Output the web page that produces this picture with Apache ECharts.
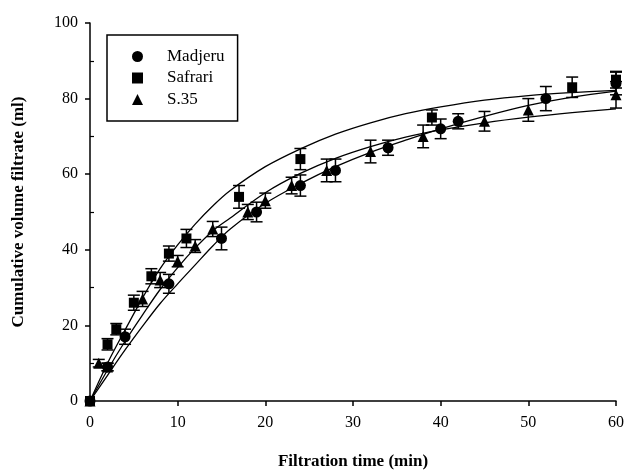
<!DOCTYPE html>
<html>
<head>
<meta charset="utf-8">
<script src="https://cdn.jsdelivr.net/npm/echarts@6/dist/echarts.min.js"></script>
<style>
  html, body { margin: 0; padding: 0; background: #fff; }
  #chart { width: 628px; height: 474px; }
</style>
</head>
<body>
<div id="chart"></div>
<script>
// Measured cumulative filtrate volume (ml) vs. time (min), with standard errors
const madjeruTime = [0, 2, 4, 9, 15, 19, 24, 28, 34, 40, 42, 52, 60];
const madjeruVol  = [0, 9, 17, 31, 43, 50, 57, 61, 67, 72, 74, 80, 84];
const madjeruErr  = [0, 1, 2, 2.5, 3, 2.6, 2.8, 3, 2, 2.6, 2, 3.2, 3];

const safariTime = [0, 2, 3, 5, 7, 9, 11, 17, 24, 39, 55, 60];
const safariVol  = [0, 15, 19, 26, 33, 39, 43, 54, 64, 75, 83, 85];
const safariErr  = [0, 1.5, 1.5, 2, 2, 2, 2.4, 3, 2.8, 2, 2.7, 2.2];

const s35Time = [0, 1, 2, 6, 8, 10, 12, 14, 18, 20, 23, 27, 32, 38, 45, 50, 60];
const s35Vol  = [0, 10, 9, 27, 32, 37, 41, 45.5, 50, 53, 57, 61, 66, 70, 74, 77, 81];
const s35Err  = [0, 1, 1, 2, 2, 1.5, 1.7, 2, 2, 2, 2.2, 3, 3, 3, 2.6, 3, 3.5];

// Fitted curves, sampled along time
const fitTime    = [0, 2, 4, 6, 8, 10, 12, 14, 16, 20, 24, 28, 32, 36, 40, 45, 50, 55, 60];
const madjeruFit = [0, 6.8, 13.5, 19.8, 25.8, 31, 36, 41, 45.5, 52.3, 57.5, 62, 65.8, 69, 72, 75.3, 78.2, 80.4, 82];
const safariFit  = [0, 10, 18.8, 27.3, 35, 41.3, 46.8, 51.6, 55.7, 62, 66.7, 70.6, 73.6, 76, 77.8, 79.6, 80.8, 81.6, 82.2];
const s35Fit     = [0, 8.2, 15.8, 22.8, 29.5, 35.3, 40.5, 45, 48.4, 55.1, 60.2, 64.2, 67.3, 69.8, 71.7, 73.6, 75.1, 76.3, 77.3];

const xTicks = [0, 10, 20, 30, 40, 50, 60];
const yTicks = [0, 20, 40, 60, 80, 100];
const yMinorTicks = [10, 30, 50, 70, 90];

const SERIF = '"Liberation Serif", "Times New Roman", serif';
const INK = '#000';

const GRID = { left: 90, right: 12, top: 23, bottom: 73 };
const CHART_W = 628;

function zip(a, b) { return a.map((v, i) => [v, b[i]]); }
function errData(t, v, e) { return t.map((x, i) => [x, v[i] - e[i], v[i] + e[i]]); }

// Vertical error bar with caps, positioned through the axes' scales
function errorBarRender(params, api) {
  const x = api.value(0);
  const lo = api.coord([x, api.value(1)]);
  const hi = api.coord([x, api.value(2)]);
  if (Math.abs(lo[1] - hi[1]) < 0.5) return { type: 'group', children: [] };
  const w = 6;
  const style = { stroke: INK, lineWidth: 1.5 };
  return {
    type: 'group',
    children: [
      { type: 'line', shape: { x1: hi[0], y1: hi[1], x2: lo[0], y2: lo[1] }, style },
      { type: 'line', shape: { x1: hi[0] - w, y1: hi[1], x2: hi[0] + w, y2: hi[1] }, style },
      { type: 'line', shape: { x1: lo[0] - w, y1: lo[1], x2: lo[0] + w, y2: lo[1] }, style }
    ]
  };
}

function fitLine(data) {
  return {
    type: 'line', data, smooth: 0.35, showSymbol: false, silent: true,
    lineStyle: { color: INK, width: 1.3 }, z: 2
  };
}
function errSeries(data) {
  return { type: 'custom', renderItem: errorBarRender, data, encode: { x: 0, y: [1, 2] }, z: 3, silent: true };
}
function pointSeries(name, symbol, size, data) {
  return {
    name, type: 'scatter', symbol, symbolSize: size, data,
    itemStyle: { color: INK, opacity: 1 }, z: 4
  };
}

const chart = echarts.init(document.getElementById('chart'), null, { renderer: 'canvas' });
chart.setOption({
  backgroundColor: '#fff',
  animation: false,
  grid: Object.assign({ outerBoundsMode: 'none', containLabel: false }, GRID),
  legend: {
    left: 107, top: 35, orient: 'vertical',
    data: ['Madjeru', 'Safrari', 'S.35'],
    borderColor: INK, borderWidth: 1.5, borderRadius: 0,
    padding: [13, 13, 13, 25],
    itemWidth: 11, itemHeight: 11, itemGap: 4.5,
    textStyle: { fontFamily: SERIF, fontSize: 17, color: INK, lineHeight: 17, padding: [0, 0, 0, 19] },
    selectedMode: false
  },
  xAxis: {
    type: 'value', min: 0, max: 60, interval: 10,
    name: 'Filtration time (min)', nameLocation: 'middle', nameGap: 52,
    nameTextStyle: { fontFamily: SERIF, fontSize: 17, fontWeight: 'bold', color: INK },
    axisLine: { lineStyle: { color: INK, width: 1.5 } },
    axisTick: { show: true, length: 5, lineStyle: { color: INK, width: 1.5 } },
    axisLabel: { fontFamily: SERIF, fontSize: 16, color: INK, margin: 14,
      formatter: v => (xTicks.includes(v) ? String(v) : '') },
    splitLine: { show: false }
  },
  yAxis: [
    {
      type: 'value', min: 0, max: 100, interval: 20,
      name: 'Cumulative volume filtrate (ml)', nameLocation: 'middle', nameGap: 63,
      nameTextStyle: { fontFamily: SERIF, fontSize: 17, fontWeight: 'bold', color: INK },
      axisLine: { show: true, lineStyle: { color: INK, width: 1.5 } },
      axisTick: { show: true, length: 5, lineStyle: { color: INK, width: 1.5 } },
      axisLabel: { fontFamily: SERIF, fontSize: 16, color: INK, margin: 12,
        formatter: v => (yTicks.includes(v) ? String(v) : '') },
      splitLine: { show: false }
    },
    {
      // minor ticks: a right-side axis shifted onto the left axis line, so its
      // outward ticks point into the plot
      type: 'value', min: 0, max: 100, position: 'right',
      offset: -(CHART_W - GRID.left - GRID.right),
      axisLine: { show: false },
      axisLabel: { show: false },
      axisTick: { show: true, inside: false, length: 4, customValues: yMinorTicks,
        lineStyle: { color: INK, width: 1.2 } },
      splitLine: { show: false }
    }
  ],
  series: [
    fitLine(zip(fitTime, madjeruFit)),
    fitLine(zip(fitTime, safariFit)),
    fitLine(zip(fitTime, s35Fit)),
    errSeries(errData(madjeruTime, madjeruVol, madjeruErr)),
    errSeries(errData(safariTime, safariVol, safariErr)),
    errSeries(errData(s35Time, s35Vol, s35Err)),
    pointSeries('S.35', 'triangle', 11, zip(s35Time, s35Vol)),
    pointSeries('Safrari', 'rect', 10, zip(safariTime, safariVol)),
    pointSeries('Madjeru', 'circle', 11, zip(madjeruTime, madjeruVol))
  ]
});
</script>
</body>
</html>
